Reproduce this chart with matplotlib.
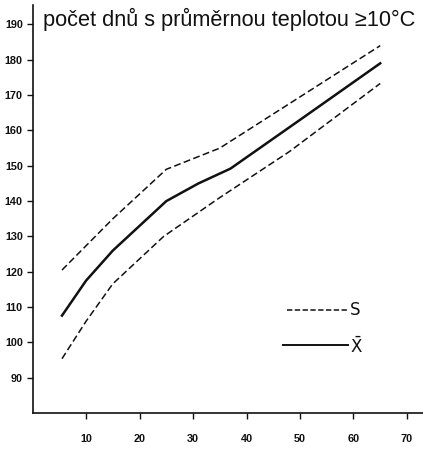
import matplotlib.pyplot as plt

x_mean = [5.5, 10, 15, 25, 31, 37, 50, 65]
y_mean = [107.6, 117.5, 126, 140, 145, 149.2, 163, 179]

x_upper = [5.5, 15, 25, 35, 50, 65]
y_upper = [120.5, 135, 149, 155, 169.5, 184]

x_lower = [5.5, 10, 15, 24.5, 35, 48, 65]
y_lower = [95.4, 106, 116.6, 130, 141, 154, 173.3]

x_ticks = [10, 20, 30, 40, 50, 60, 70]
y_ticks = [90, 100, 110, 120, 130, 140, 150, 160, 170, 180, 190]

fig = plt.figure(figsize=(4.23, 4.57), dpi=100)
ax = fig.add_axes([0.077, 0.096, 0.923, 0.893])

ink = '#111111'
dash = (4.5, 2.2)
ax.plot(x_mean, y_mean, color=ink, lw=1.8)
ax.plot(x_upper, y_upper, color=ink, lw=1.1, dashes=dash)
ax.plot(x_lower, y_lower, color=ink, lw=1.1, dashes=dash)

# legenda
ax.plot([47.6, 59], [109.2, 109.2], color=ink, lw=1.1, dashes=(3.5, 1.6))
ax.text(59.3, 109.2, 'S', fontsize=12, va='center', ha='left', color=ink)
ax.plot([46.9, 59], [99.3, 99.3], color=ink, lw=1.4)
ax.text(59.3, 98.8, r'$\mathregular{\bar{X}}$', fontsize=12, va='center', ha='left', color=ink)

ax.text(2, 191.3, 'počet dnů s průměrnou teplotou ≥10°C', fontsize=15.7,
        va='center', ha='left', color=ink,
        family=['Liberation Sans', 'DejaVu Sans'])

ax.set_xlim(0, 73)
ax.set_ylim(80, 195.5)
ax.set_xticks(x_ticks)
ax.set_yticks(y_ticks)
ax.tick_params(direction='out', length=4, width=1, colors=ink, labelsize=7.8)
for lab in ax.get_xticklabels() + ax.get_yticklabels():
    lab.set_fontweight('bold')
    lab.set_family(['Liberation Sans', 'DejaVu Sans'])
ax.tick_params(axis='x', pad=11)
ax.tick_params(axis='y', pad=3)

for s in ['top', 'right']:
    ax.spines[s].set_visible(False)
for s in ['left', 'bottom']:
    ax.spines[s].set_linewidth(1.2)
    ax.spines[s].set_color(ink)

fig.savefig('out.png', dpi=100)
